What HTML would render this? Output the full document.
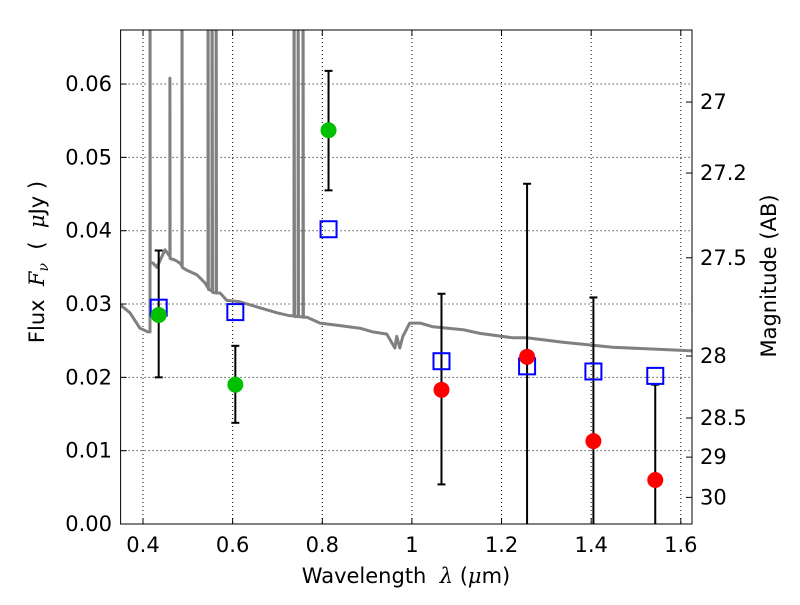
<!DOCTYPE html>
<html><head><meta charset="utf-8"><style>
body{margin:0;background:#fff;}
svg text{font-family:"DejaVu Sans","Liberation Sans",sans-serif;fill:#000;white-space:pre;}
</style></head><body>
<svg id="chart" width="800" height="600" xmlns="http://www.w3.org/2000/svg">
<defs><clipPath id="clip"><rect x="120.6" y="30" width="571.4" height="494"/></clipPath></defs>
<rect x="0" y="0" width="800" height="600" fill="#fff"/>
<g id="grid"></g>
<g id="spec" clip-path="url(#clip)"></g>
<g id="marks" clip-path="url(#clip)"></g>
<g id="axes"></g>
<text x="406" y="583" font-size="21" text-anchor="middle" xml:space="preserve">Wavelength  <tspan font-style="italic" font-family="DejaVu Serif, serif">λ</tspan> (<tspan font-style="italic" font-family="DejaVu Serif, serif">μ</tspan>m)</text>
<text transform="translate(44,262) rotate(-90)" font-size="21" text-anchor="middle" xml:space="preserve">Flux  <tspan font-style="italic" font-family="DejaVu Serif, serif">F</tspan><tspan font-style="italic" font-size="14" dy="4" font-family="DejaVu Serif, serif">ν</tspan><tspan dy="-4">  (  </tspan><tspan font-style="italic" font-family="DejaVu Serif, serif">μ</tspan>Jy )</text>
<text transform="translate(776,276) rotate(-90)" font-size="21" text-anchor="middle">Magnitude (AB)</text>
</svg>
<script>
const xTicks=[0.4,0.6,0.8,1.0,1.2,1.4,1.6];
const xTickLabels=["0.4","0.6","0.8","1","1.2","1.4","1.6"];
const yTicks=[0,0.01,0.02,0.03,0.04,0.05,0.06];
const yTickLabels=["0.00","0.01","0.02","0.03","0.04","0.05","0.06"];
const magTicks=[27,27.2,27.5,28,28.5,29,30];
const magTickLabels=["27","27.2","27.5","28","28.5","29","30"];
const specWave=[0.349,0.371,0.393,0.411,0.4156,0.4156,0.4160,0.422,0.431,0.449,0.460,0.460,0.4605,0.471,0.482,0.487,0.487,0.4875,0.498,0.520,0.538,0.545,0.545,0.546,0.554,0.554,0.555,0.563,0.563,0.564,0.572,0.587,0.616,0.660,0.699,0.728,0.737,0.737,0.738,0.746,0.746,0.747,0.757,0.757,0.758,0.766,0.795,0.833,0.884,0.913,0.944,0.962,0.966,0.973,0.980,0.995,1.018,1.047,1.114,1.152,1.225,1.256,1.337,1.448,1.597,1.624];
const specFlux=[0.0299,0.0288,0.0267,0.0262,0.0262,0.09,0.0356,0.0356,0.0350,0.0374,0.0365,0.0608,0.0362,0.0360,0.0356,0.0352,0.09,0.0350,0.0346,0.0340,0.0329,0.0322,0.09,0.0320,0.0318,0.09,0.0316,0.0315,0.09,0.0315,0.0315,0.0305,0.0303,0.0295,0.0288,0.0284,0.0284,0.09,0.0283,0.0283,0.09,0.0283,0.0282,0.09,0.0282,0.0282,0.0274,0.0271,0.0267,0.0262,0.0259,0.0240,0.0256,0.0240,0.0256,0.0274,0.0274,0.0269,0.0265,0.0260,0.0254,0.0254,0.0248,0.0241,0.0237,0.0236];
const obsWave=[0.435,0.606,0.814,1.066,1.257,1.405,1.543];
const obsFlux=[0.0285,0.0190,0.0537,0.0183,0.0228,0.0113,0.0060];
const obsUpper=[0.0373,0.0243,0.0618,0.0314,0.0464,0.0309,0.0190];
const obsLower=[0.0200,0.0138,0.0455,0.0054,-0.01,-0.01,-0.01];
const obsColor=["green","green","green","red","red","red","red"];
const modelFlux=[0.0295,0.0289,0.0402,0.0222,0.0215,0.0208,0.0202];
const X0=120.6,X1=692,Y0=524,Y1=30,xmin=0.35,xmax=1.625,ymin=0,ymax=0.06737;
const sx=v=>X0+(v-xmin)/(xmax-xmin)*(X1-X0);
const sy=v=>Y0-(v-ymin)/(ymax-ymin)*(Y0-Y1);
const NS="http://www.w3.org/2000/svg";
function mk(t,a,p){const e=document.createElementNS(NS,t);for(const k in a)e.setAttribute(k,a[k]);p.appendChild(e);return e;}
const grid=document.getElementById('grid'),axes=document.getElementById('axes'),spec=document.getElementById('spec'),marks=document.getElementById('marks');
xTicks.forEach((v,i)=>{const x=sx(v);
 const g=mk('line',{x1:x,x2:x,y1:Y1,y2:Y0,stroke:'#000','stroke-width':1,'stroke-dasharray':'1,3'},grid);
 
 
 mk('line',{x1:x,x2:x,y1:Y0,y2:Y0-6,stroke:'#000'},axes);
 mk('line',{x1:x,x2:x,y1:Y1,y2:Y1+6,stroke:'#000'},axes);
 const t=mk('text',{x:x,y:552,'font-size':21,'text-anchor':'middle'},axes);t.textContent=xTickLabels[i];
 
 
});
yTicks.forEach((v,i)=>{const y=sy(v);
 const g=mk('line',{x1:X0,x2:X1,y1:y,y2:y,stroke:'#000','stroke-width':1,'stroke-dasharray':'1,3'},grid);
 
 
 mk('line',{x1:X0,x2:X0+6,y1:y,y2:y,stroke:'#000'},axes);
 const t=mk('text',{x:112,y:y+7,'font-size':21,'text-anchor':'end'},axes);t.textContent=yTickLabels[i];
 
 
});
magTicks.forEach((m,i)=>{const y=sy(Math.pow(10,(23.9-m)/2.5));
 mk('line',{x1:X1,x2:X1-6,y1:y,y2:y,stroke:'#000'},axes);
 const t=mk('text',{x:700,y:y+7,'font-size':21},axes);t.textContent=magTickLabels[i];
 
 
});
mk('rect',{x:X0,y:Y1,width:X1-X0,height:Y0-Y1,fill:'none',stroke:'#000','stroke-width':1},axes);
const pts=specWave.map((w,i)=>sx(w).toFixed(1)+','+sy(specFlux[i]).toFixed(1)).join(' ');
const pl=mk('polyline',{points:pts,fill:'none',stroke:'#808080','stroke-width':3,'stroke-linejoin':'round'},spec);


obsWave.forEach((w,i)=>{const x=sx(w),yu=sy(obsUpper[i]),yl=sy(obsLower[i]);
 const e=mk('g',{},marks);
 
 
 mk('line',{x1:x,x2:x,y1:yu,y2:yl,stroke:'#000','stroke-width':2},e);
 mk('line',{x1:x-4,x2:x+4,y1:yu,y2:yu,stroke:'#000','stroke-width':2},e);
 mk('line',{x1:x-4,x2:x+4,y1:yl,y2:yl,stroke:'#000','stroke-width':2},e);
});
obsWave.forEach((w,i)=>{
 const r=mk('rect',{x:sx(w)-8,y:sy(modelFlux[i])-8,width:16,height:16,fill:'none',stroke:'#0000ff','stroke-width':2},marks);
 
 
});
obsWave.forEach((w,i)=>{
 const c=mk('circle',{cx:sx(w),cy:sy(obsFlux[i]),r:8,fill:obsColor[i]=='green'?'#00c000':'#ff0000'},marks);
 
 
});
</script>
</body></html>
